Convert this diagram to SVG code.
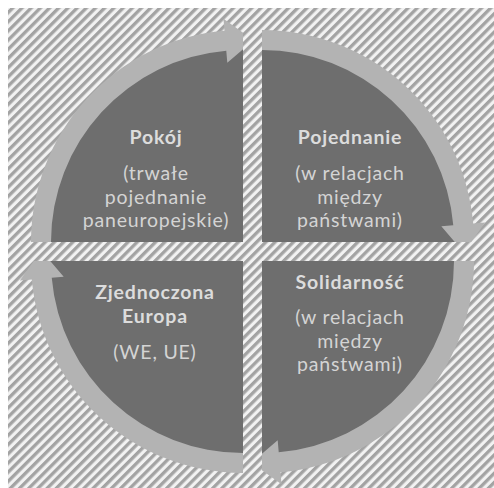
<svg xmlns="http://www.w3.org/2000/svg" width="494" height="488" viewBox="0 0 494 488">
<style>
.wedge{fill:#6e6e6e}
.arrow{fill:#b3b3b3}
.hatch{fill:url(#stripes)}
text{font-family:Lato,"Open Sans","Liberation Sans",sans-serif;font-size:19.5px;letter-spacing:0.8px;fill:#d4d4d4;text-anchor:middle}
.t{font-weight:bold;fill:#dcdcdc}
</style>
<defs>
<pattern id="stripes" patternUnits="userSpaceOnUse" width="6.5" height="6.5" patternTransform="rotate(45)">
<rect width="6.5" height="6.5" fill="#f2f2f2"/>
<rect width="3.3" height="6.5" fill="#a3a3a3"/>
</pattern>
<path id="wedgeShape" d="M0 0 L-195 0 A195 195 0 0 1 0 -195 Z"/>
<path id="arrowShape" d="M-212 0 A212 212 0 0 1 -18.48 -211.19 L-19.52 -223.15 L10.57 -201.72 L-15.69 -179.31 L-16.73 -191.27 A192 192 0 0 0 -192 0 Z"/>
</defs>
<rect width="494" height="488" fill="#ffffff"/>
<rect x="8" y="8" width="486" height="480" class="hatch"/>
<g id="pokoj">
<use href="#wedgeShape" class="wedge" transform="translate(243,242)"/>
<text x="156" y="144" class="t">Pokój</text>
<text x="156" y="180">(trwałe</text>
<text x="156" y="203.5">pojednanie</text>
<text x="156" y="227">paneuropejskie)</text>
</g>
<g id="pojednanie">
<use href="#wedgeShape" class="wedge" transform="translate(262,242) rotate(90)"/>
<text x="350" y="144" class="t">Pojednanie</text>
<text x="350" y="180">(w relacjach</text>
<text x="350" y="203.5">między</text>
<text x="350" y="227">państwami)</text>
</g>
<g id="solidarnosc">
<use href="#wedgeShape" class="wedge" transform="translate(262,261) rotate(180)"/>
<text x="350" y="289" class="t">Solidarność</text>
<text x="350" y="324">(w relacjach</text>
<text x="350" y="347.5">między</text>
<text x="350" y="371">państwami)</text>
</g>
<g id="zjednoczona">
<use href="#wedgeShape" class="wedge" transform="translate(243,261) rotate(270)"/>
<text x="155" y="299" class="t">Zjednoczona</text>
<text x="155" y="323" class="t">Europa</text>
<text x="155" y="359">(WE, UE)</text>
</g>
<g id="connectors">
<use href="#arrowShape" class="arrow" transform="translate(243,242)"/>
<use href="#arrowShape" class="arrow" transform="translate(262,242) rotate(90)"/>
<use href="#arrowShape" class="arrow" transform="translate(262,261) rotate(180)"/>
<use href="#arrowShape" class="arrow" transform="translate(243,261) rotate(270)"/>
</g>
<g id="gaps">
<rect x="243" y="8" width="19" height="480" class="hatch"/>
<rect x="8" y="242" width="486" height="19" class="hatch"/>
</g>
</svg>
